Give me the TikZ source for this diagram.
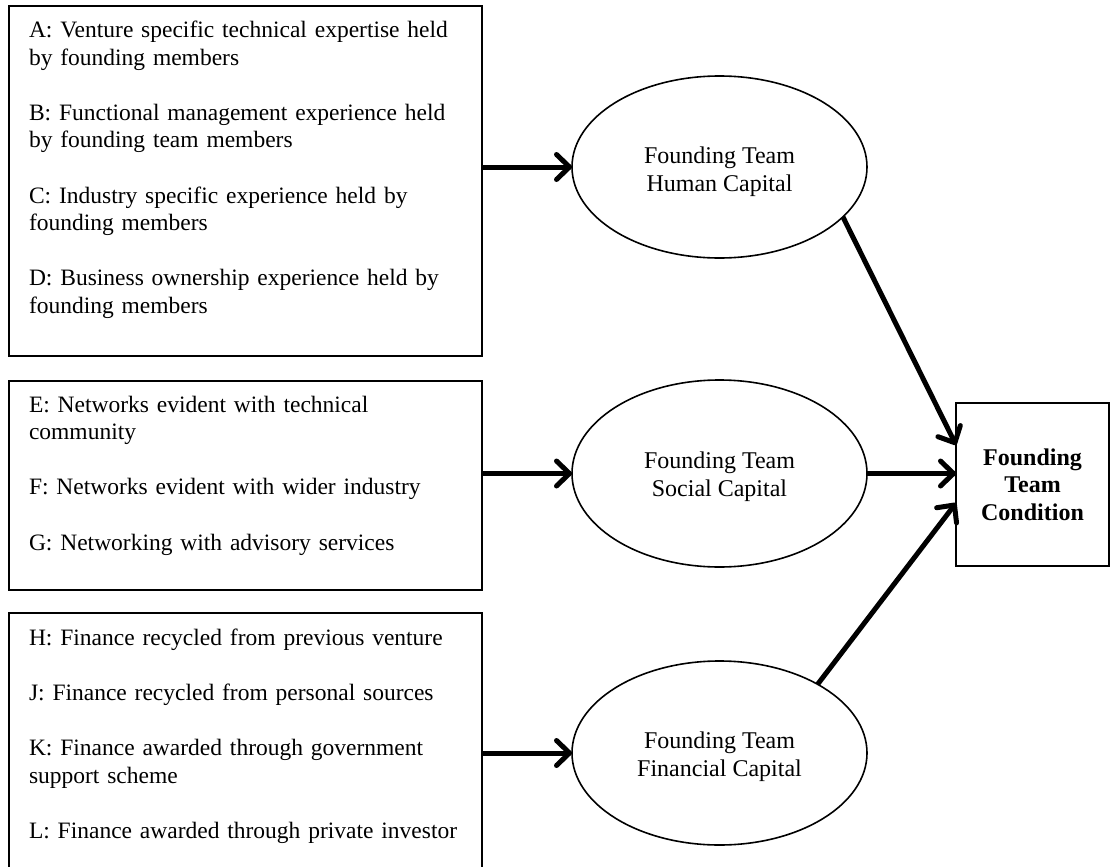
\documentclass[tikz,border=0pt]{standalone}
\usepackage{fontspec}
\setmainfont{Liberation Serif}
\usetikzlibrary{shapes.geometric,arrows.meta,calc}

\begin{document}
\begin{tikzpicture}[x=1pt,y=-1pt,
  txt/.style={font=\fontsize{24}{27.6}\selectfont},
  listbox/.style={draw, line width=2pt, minimum width=473pt, inner sep=0pt,
    outer sep=0pt, anchor=north west},
  itemtext/.style={font=\fontsize{23.5}{27.6}\selectfont, anchor=base west,
    text width=450pt, align=left, inner sep=0pt, outer sep=0pt},
  capital/.style={ellipse, draw, line width=1.6pt, minimum width=295pt,
    minimum height=184pt, inner sep=0pt, outer sep=0pt},
  captext/.style={txt, align=center, inner sep=0pt},
  result/.style={draw, line width=2pt, minimum width=153pt, minimum height=163pt,
    inner sep=0pt, outer sep=0pt,
    font=\fontsize{24}{27.6}\selectfont\bfseries, align=center},
  link/.style={line width=5pt,
    -{Straight Barb[length=13pt,width=25pt,round]}}
]
\useasboundingbox (0,0) rectangle (1111,867);

% indicator lists
\node[listbox, minimum height=350pt] (box1) at (9,6) {};
\node[listbox, minimum height=209pt] (box2) at (9,381) {};
\node[listbox, minimum height=270pt] (box3) at (9,613) {};

\node[itemtext] (list1) at (29,37.5) {A: Venture specific technical expertise held\\
by founding members\\[27.6pt]
B: Functional management experience held\\
by founding team members\\[27.6pt]
C: Industry specific experience held by\\
founding members\\[27.6pt]
D: Business ownership experience held by\\
founding members};

\node[itemtext] (list2) at (29,412) {E: Networks evident with technical\\
community\\[27.6pt]
F: Networks evident with wider industry\\[27.6pt]
G: Networking with advisory services};

\node[itemtext] (list3) at (29,645) {H: Finance recycled from previous venture\\[27.6pt]
J: Finance recycled from personal sources\\[27.6pt]
K: Finance awarded through government\\
support scheme\\[27.6pt]
L: Finance awarded through private investor};

% capital constructs
\node[capital, minimum height=182pt] (hum) at (719.5,167) {};
\node[capital, minimum height=187pt] (soc) at (719.5,473.5) {};
\node[capital] (fin) at (719.5,753) {};
\node[captext] (humt) at ([yshift=-5pt]hum.center) {Founding Team\\Human Capital};
\node[captext] (soct) at ([yshift=-3pt]soc.center) {Founding Team\\Social Capital};
\node[captext] (fint) at ([yshift=-4pt]fin.center) {Founding Team\\Financial Capital};

% outcome
\node[result] (cond) at (1032.5,484.5) {Founding\\Team\\Condition};

% links
\draw[link] (hum.west -| box1.east) -- (hum.west);
\draw[link] (soc.west -| box2.east) -- (soc.west);
\draw[link] (fin.west -| box3.east) -- (fin.west);
\draw[link] (hum.-22) -- ([yshift=39.5pt]cond.west);
\draw[link] (soc.east) -- (soc.east -| cond.west);
\draw[link] (fin.35) -- ([yshift=-18.5pt]cond.west);
\end{tikzpicture}
\end{document}
